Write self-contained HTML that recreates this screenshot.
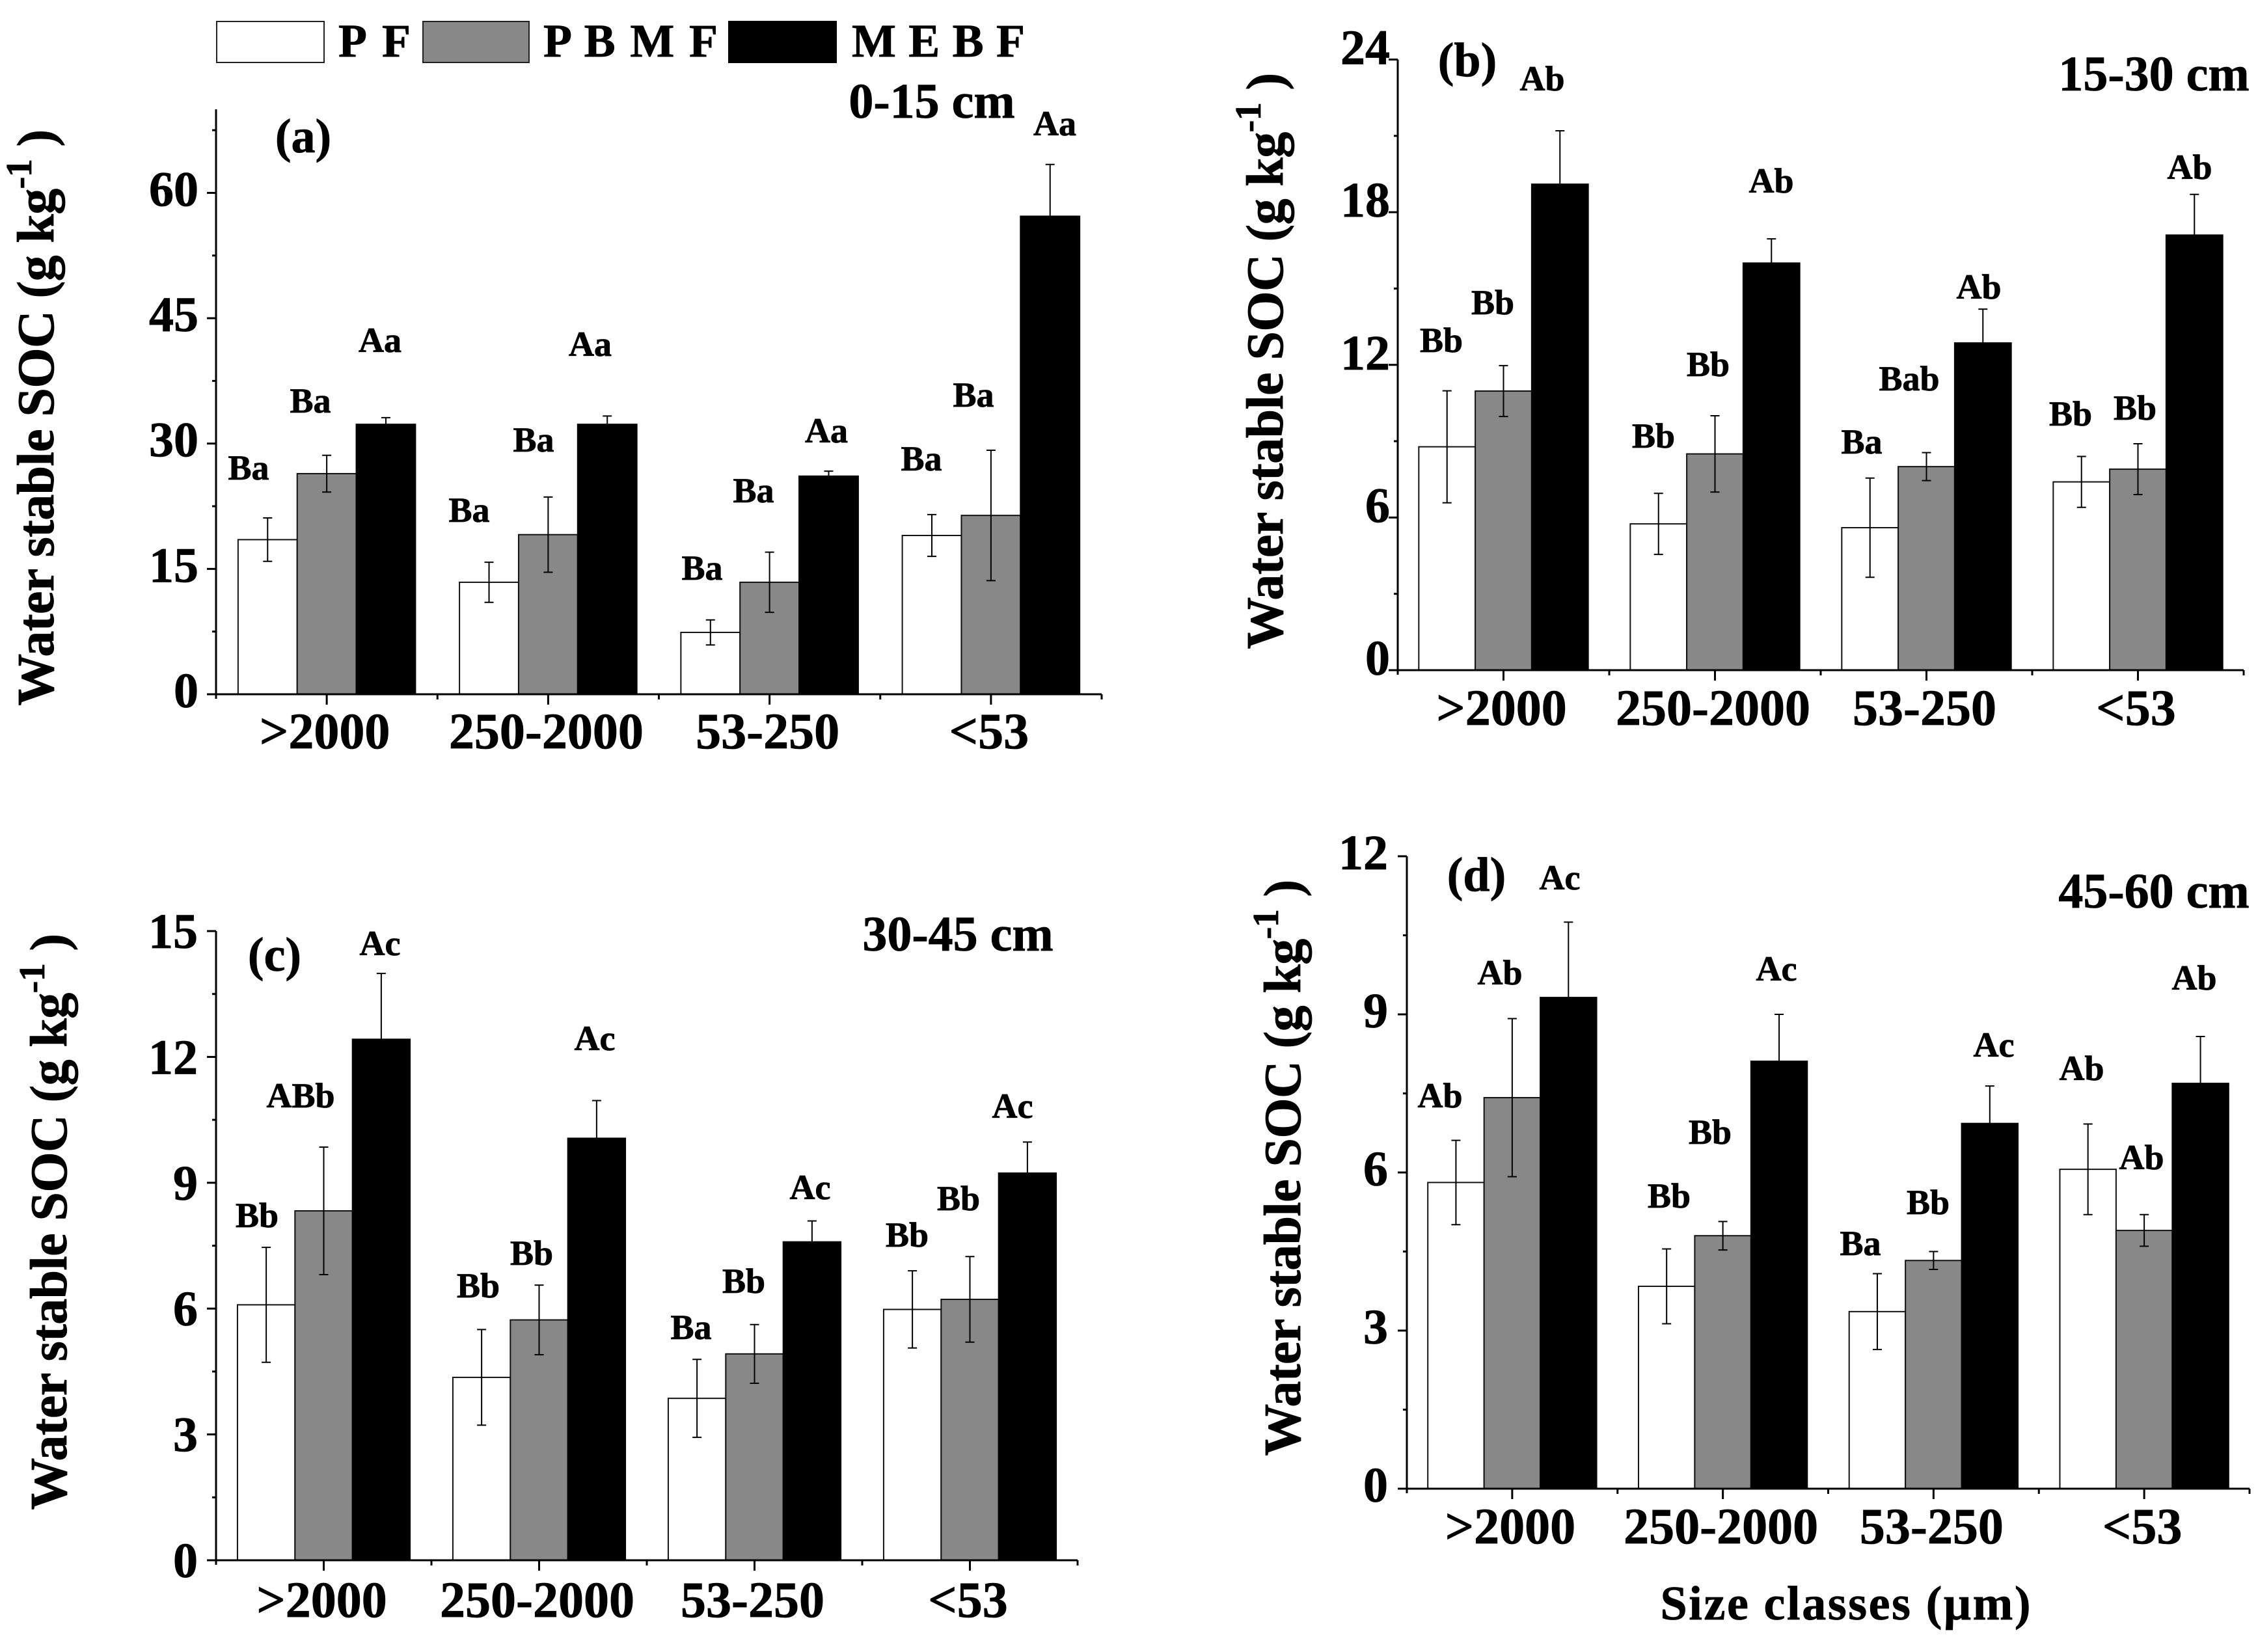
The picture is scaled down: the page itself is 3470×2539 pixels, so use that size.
<!DOCTYPE html>
<html lang="en">
<head>
<meta charset="utf-8">
<title>Water stable SOC by size class</title>
<style>
html,body{margin:0;padding:0;background:#fff;}
svg{display:block;}
text{font-family:"Liberation Serif",serif;font-weight:bold;fill:#000;stroke:#000;stroke-width:0.8px;}
.note{font-size:54px;text-anchor:middle;}
.panel-id{font-size:74px;text-anchor:middle;}
.depth{font-size:76px;text-anchor:middle;}
.legend-text{font-size:72px;}
</style>
</head>
<body>
<svg id="chart" xmlns="http://www.w3.org/2000/svg" width="3470" height="2539" viewBox="0 0 3470 2539">
  <rect x="0" y="0" width="3470" height="2539" fill="#fff"/>

  <g>
    <rect x="333" y="33" width="165" height="63" fill="#fff" stroke="#222" stroke-width="2"/>
    <text class="legend-text" x="520" y="87" textLength="111" lengthAdjust="spacing">P F</text>
    <rect x="650" y="33" width="163" height="63" fill="#888" stroke="#222" stroke-width="2"/>
    <text class="legend-text" x="835" y="87" textLength="268" lengthAdjust="spacing">P B M F</text>
    <rect x="1119" y="32" width="167" height="65" fill="#000"/>
    <text class="legend-text" x="1309" y="87" textLength="266" lengthAdjust="spacing">M E B F</text>
  </g>

  <g id="plots"></g>

  <g>
    <text class="panel-id" x="466" y="234">(a)</text>
    <text class="depth" x="1432" y="181">0-15 cm</text>
    <text class="note" x="382" y="737">Ba</text>
    <text class="note" x="477" y="634">Ba</text>
    <text class="note" x="584" y="541">Aa</text>
    <text class="note" x="721" y="802">Ba</text>
    <text class="note" x="820" y="694">Ba</text>
    <text class="note" x="907" y="547">Aa</text>
    <text class="note" x="1079" y="891">Ba</text>
    <text class="note" x="1158" y="772">Ba</text>
    <text class="note" x="1270" y="680">Aa</text>
    <text class="note" x="1416" y="723">Ba</text>
    <text class="note" x="1496" y="625">Ba</text>
    <text class="note" x="1621" y="208">Aa</text>
  </g>

  <g>
    <text class="panel-id" x="2255" y="117">(b)</text>
    <text class="depth" x="3310" y="139">15-30 cm</text>
    <text class="note" x="2215" y="541">Bb</text>
    <text class="note" x="2294" y="483">Bb</text>
    <text class="note" x="2370" y="139">Ab</text>
    <text class="note" x="2541" y="688">Bb</text>
    <text class="note" x="2625" y="578">Bb</text>
    <text class="note" x="2722" y="296">Ab</text>
    <text class="note" x="2861" y="697">Ba</text>
    <text class="note" x="2934" y="600">Bab</text>
    <text class="note" x="3041" y="459">Ab</text>
    <text class="note" x="3182" y="654">Bb</text>
    <text class="note" x="3281" y="645">Bb</text>
    <text class="note" x="3365" y="275">Ab</text>
  </g>

  <g>
    <text class="panel-id" x="422" y="1492">(c)</text>
    <text class="depth" x="1472" y="1461">30-45 cm</text>
    <text class="note" x="395" y="1886">Bb</text>
    <text class="note" x="462" y="1702">ABb</text>
    <text class="note" x="584" y="1468">Ac</text>
    <text class="note" x="735" y="1994">Bb</text>
    <text class="note" x="817" y="1944">Bb</text>
    <text class="note" x="914" y="1614">Ac</text>
    <text class="note" x="1062" y="2058">Ba</text>
    <text class="note" x="1143" y="1987">Bb</text>
    <text class="note" x="1245" y="1843">Ac</text>
    <text class="note" x="1394" y="1916">Bb</text>
    <text class="note" x="1473" y="1860">Bb</text>
    <text class="note" x="1556" y="1718">Ac</text>
  </g>

  <g>
    <text class="panel-id" x="2269" y="1369">(d)</text>
    <text class="depth" x="3310" y="1395">45-60 cm</text>
    <text class="note" x="2213" y="1702">Ab</text>
    <text class="note" x="2305" y="1513">Ab</text>
    <text class="note" x="2397" y="1367">Ac</text>
    <text class="note" x="2565" y="1856">Bb</text>
    <text class="note" x="2628" y="1758">Bb</text>
    <text class="note" x="2730" y="1507">Ac</text>
    <text class="note" x="2859" y="1929">Ba</text>
    <text class="note" x="2963" y="1866">Bb</text>
    <text class="note" x="3064" y="1624">Ac</text>
    <text class="note" x="3199" y="1660">Ab</text>
    <text class="note" x="3291" y="1797">Ab</text>
    <text class="note" x="3372" y="1521">Ab</text>
    <text x="2836" y="2489" font-size="74" text-anchor="middle" textLength="569" lengthAdjust="spacing">Size classes (μm)</text>
  </g>
</svg>

<script>
// Shared categories and series
const categories = [">2000", "250-2000", "53-250", "<53"];
const seriesKeys = ["pf", "pbmf", "mebf"];

// Panel (a) 0-15 cm
const aTicks = [0, 15, 30, 45, 60];
const aPF = [18.5, 13.4, 7.4, 19.0];
const aPBMF = [26.4, 19.1, 13.4, 21.4];
const aMEBF = [32.3, 32.3, 26.1, 57.2];
const aErrPF = [2.6, 2.4, 1.5, 2.5];
const aErrPBMF = [2.2, 4.5, 3.6, 7.8];
const aErrMEBF = [0.8, 1.0, 0.6, 6.2];

// Panel (b) 15-30 cm
const bTicks = [0, 6, 12, 18, 24];
const bPF = [8.78, 5.75, 5.6, 7.4];
const bPBMF = [10.97, 8.5, 8.0, 7.9];
const bMEBF = [19.1, 16.0, 12.86, 17.1];
const bErrPF = [2.2, 1.2, 1.95, 1.0];
const bErrPBMF = [1.0, 1.5, 0.55, 1.0];
const bErrMEBF = [2.1, 0.95, 1.33, 1.6];

// Panel (c) 30-45 cm
const cTicks = [0, 3, 6, 9, 12, 15];
const cPF = [6.09, 4.36, 3.86, 5.98];
const cPBMF = [8.33, 5.73, 4.92, 6.22];
const cMEBF = [12.42, 10.06, 7.59, 9.23];
const cErrPF = [1.37, 1.14, 0.93, 0.92];
const cErrPBMF = [1.52, 0.83, 0.7, 1.02];
const cErrMEBF = [1.57, 0.9, 0.5, 0.74];

// Panel (d) 45-60 cm
const dTicks = [0, 3, 6, 9, 12];
const dPF = [5.81, 3.84, 3.36, 6.06];
const dPBMF = [7.42, 4.8, 4.33, 4.9];
const dMEBF = [9.32, 8.11, 6.93, 7.69];
const dErrPF = [0.8, 0.71, 0.72, 0.86];
const dErrPBMF = [1.5, 0.27, 0.17, 0.3];
const dErrMEBF = [1.43, 0.89, 0.71, 0.89];

const NS = "http://www.w3.org/2000/svg";
const root = document.getElementById("plots");

function make(parent, tag, attrs, text) {
  const el = document.createElementNS(NS, tag);
  for (const k in attrs) el.setAttribute(k, attrs[k]);
  if (text !== undefined) el.textContent = text;
  parent.appendChild(el);
  return el;
}

function drawPanel(cfg) {
  const g = make(root, "g", {});
  
  

  const yScale = v => cfg.y0 - (v / cfg.max) * (cfg.y0 - cfg.yTop);
  const band = (cfg.x1 - cfg.x0) / categories.length;
  const center = i => cfg.x0 + band * (i + 0.5);
  const barW = band * 0.267;

  // bars
  const fills = ["#fff", "#888", "#000"];
  const values = [cfg.pf, cfg.pbmf, cfg.mebf];
  const errs = [cfg.errPf, cfg.errPbmf, cfg.errMebf];
  values.forEach((vals, s) => {
    vals.forEach((v, i) => {
      const left = center(i) + (s - 1.5) * barW;
      const bar = make(g, "rect", {
        x: left, y: yScale(v), width: barW, height: cfg.y0 - yScale(v),
        fill: fills[s], stroke: s === 2 ? "#000" : "#111", "stroke-width": 2
      });
      
      
    });
  });

  // error bars
  values.forEach((vals, s) => {
    vals.forEach((v, i) => {
      const cx = center(i) + (s - 1) * barW;
      const e = errs[s][i];
      const eg = make(g, "path", {
        d: "M" + cx + " " + yScale(v - e) + "V" + yScale(v + e) +
           "M" + (cx - 7) + " " + yScale(v + e) + "h14" +
           "M" + (cx - 7) + " " + yScale(v - e) + "h14",
        fill: "none", stroke: "#000", "stroke-width": 2
      });
      
      
    });
  });

  // y axis
  const yAxis = make(g, "line", { x1: cfg.x0, x2: cfg.x0, y1: cfg.yTop, y2: cfg.y0 + 7, stroke: "#000", "stroke-width": 3 });
  
  

  // x axis
  const xAxis = make(g, "line", { x1: cfg.x0 - 13, x2: cfg.x1, y1: cfg.y0, y2: cfg.y0, stroke: "#000", "stroke-width": 3 });
  
  

  // y ticks and labels
  cfg.ticks.forEach((t, idx) => {
    const tk = make(g, "line", { x1: cfg.x0 - 14, x2: cfg.x0, y1: yScale(t), y2: yScale(t), stroke: "#000", "stroke-width": 3 });
    
    
    const lb = make(g, "text", { x: cfg.labelRight, y: yScale(t) + cfg.labelDy, "font-size": 76, "text-anchor": "end" }, String(t));
    
    
    if (idx < cfg.ticks.length - 1) {
      const mid = (t + cfg.ticks[idx + 1]) / 2;
      const mn = make(g, "line", { x1: cfg.x0 - 6, x2: cfg.x0, y1: yScale(mid), y2: yScale(mid), stroke: "#000", "stroke-width": 3 });
      
      
    }
  });
  if (cfg.extraMinor !== undefined) {
    const em = make(g, "line", { x1: cfg.x0 - 6, x2: cfg.x0, y1: yScale(cfg.extraMinor), y2: yScale(cfg.extraMinor), stroke: "#000", "stroke-width": 3 });
    
    
  }

  // x ticks and labels
  categories.forEach((c, i) => {
    const tk = make(g, "line", { x1: center(i), x2: center(i), y1: cfg.y0, y2: cfg.y0 + 16, stroke: "#000", "stroke-width": 3 });
    
    
    const edge = make(g, "line", { x1: cfg.x0 + band * (i + 1), x2: cfg.x0 + band * (i + 1), y1: cfg.y0, y2: cfg.y0 + 8, stroke: "#000", "stroke-width": 3 });
    
    
    const lb = make(g, "text", { x: center(i) + cfg.xLabelDx, y: cfg.xLabelY, "font-size": 78, "text-anchor": "middle" }, c);
    
    
  });

  // y axis title
  const title = make(g, "text", {
    transform: "translate(" + cfg.titleX + "," + cfg.titleY + ") rotate(-90)",
    "font-size": 80, "text-anchor": "middle", "letter-spacing": "-0.6px"
  });
  
  
  make(title, "tspan", {}, "Water stable SOC (g kg");
  make(title, "tspan", { "font-size": 56, dy: -34 }, "-1");
  make(title, "tspan", { dy: 34 }, " )");
}

drawPanel({ id: "a", x0: 332, x1: 1693, y0: 1067, yTop: 168, max: 70, ticks: aTicks, extraMinor: 67.5,
  pf: aPF, pbmf: aPBMF, mebf: aMEBF, errPf: aErrPF, errPbmf: aErrPBMF, errMebf: aErrMEBF,
  labelRight: 305, labelDy: 20, xLabelY: 1150, xLabelDx: -3, titleX: 82, titleY: 642 });
drawPanel({ id: "b", x0: 2148, x1: 3448, y0: 1030, yTop: 91.5, max: 24, ticks: bTicks,
  pf: bPF, pbmf: bPBMF, mebf: bMEBF, errPf: bErrPF, errPbmf: bErrPBMF, errMebf: bErrMEBF,
  labelRight: 2136, labelDy: 7, xLabelY: 1114, xLabelDx: -3, titleX: 1971, titleY: 555 });
drawPanel({ id: "c", x0: 332, x1: 1656, y0: 2398, yTop: 1431, max: 15, ticks: cTicks,
  pf: cPF, pbmf: cPBMF, mebf: cMEBF, errPf: cErrPF, errPbmf: cErrPBMF, errMebf: cErrMEBF,
  labelRight: 304, labelDy: 26, xLabelY: 2485, xLabelDx: -3, titleX: 102, titleY: 1878 });
drawPanel({ id: "d", x0: 2162, x1: 3457, y0: 2288, yTop: 1316, max: 12, ticks: dTicks,
  pf: dPF, pbmf: dPBMF, mebf: dMEBF, errPf: dErrPF, errPbmf: dErrPBMF, errMebf: dErrMEBF,
  labelRight: 2133, labelDy: 20, xLabelY: 2372, xLabelDx: -3, titleX: 1998, titleY: 1795 });
</script>
</body>
</html>
